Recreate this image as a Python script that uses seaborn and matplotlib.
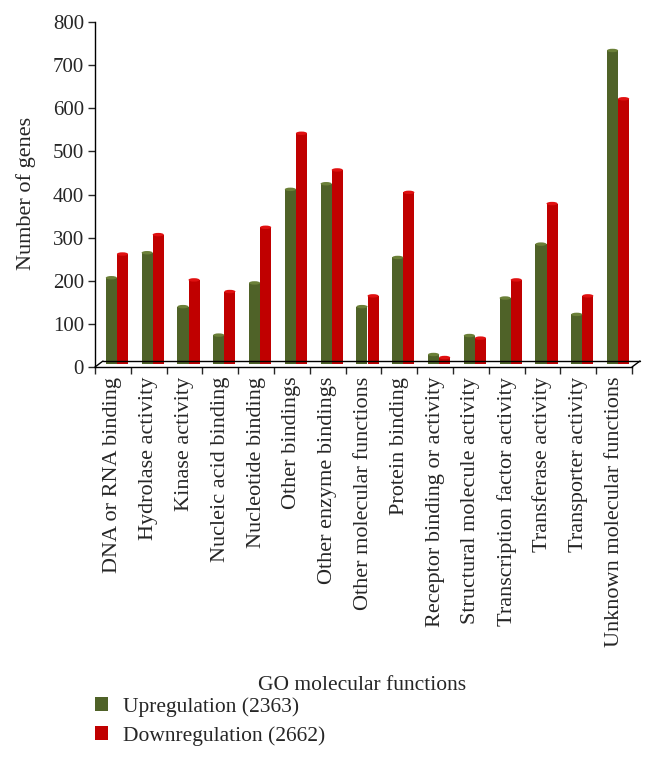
import matplotlib
matplotlib.use("Agg")
import matplotlib.pyplot as plt
import matplotlib.transforms as mtransforms
from matplotlib.patches import Patch, Ellipse
import pandas as pd
import seaborn as sns

# GO molecular function categories
categories = ["DNA or RNA binding", "Hydrolase activity", "Kinase activity",
              "Nucleic acid binding", "Nucleotide binding", "Other bindings",
              "Other enzyme bindings", "Other molecular functions",
              "Protein binding", "Receptor binding or activity",
              "Structural molecule activity", "Transcription factor activity",
              "Transferase activity", "Transporter activity",
              "Unknown molecular functions"]
up_counts = [200, 258, 133, 67, 188, 405, 418, 133, 247, 22, 66, 153, 278, 115, 727]
down_counts = [255, 300, 195, 168, 317, 535, 450, 158, 398, 15, 60, 195, 372, 158, 615]
series_names = ["Upregulation (2363)", "Downregulation (2662)"]
colors = ["#4F6228", "#C00000"]
cap_colors = ["#6B8038", "#E01010"]

df = pd.DataFrame({
    "cat": categories * 2,
    "n": up_counts + down_counts,
    "series": [series_names[0]] * len(categories) + [series_names[1]] * len(categories),
})

sns.set_style("white")
plt.rcParams["font.family"] = ["Liberation Serif", "DejaVu Serif"]

fig = plt.figure(figsize=(6.55, 7.58), dpi=100)
W, H = 655, 758
ax = fig.add_axes([95 / W, (H - 367) / H, (632 - 95) / W, (367 - 22) / H])

sns.barplot(data=df, x="cat", y="n", hue="series", palette=colors,
            width=0.62, saturation=1, ax=ax, legend=False)

# pseudo 3D: bars stand on the back edge of the floor, with a round top
shift = mtransforms.ScaledTranslation(4 / 100, 3 / 100, fig.dpi_scale_trans)
bars = list(ax.patches)
for i, p in enumerate(bars):
    p.set_transform(ax.transData + shift)
    p.set_edgecolor("none")
    cap = Ellipse((p.get_x() + p.get_width() / 2, p.get_height()),
                  p.get_width(), 8, facecolor=cap_colors[i // len(categories)],
                  edgecolor="none", transform=ax.transData + shift, clip_on=False)
    ax.add_patch(cap)

ax.set_xlim(-0.5, len(categories) - 0.5)
ax.set_ylim(0, 800)
ax.set_yticks(range(0, 801, 100))
ax.tick_params(axis="y", left=True, length=5, width=1, labelsize=15, pad=3)
ax.set_xticks(range(len(categories)))
ax.set_xticklabels(categories, rotation=90, fontsize=16)
ax.set_xticks([i - 0.5 for i in range(len(categories) + 1)], minor=True)
ax.tick_params(axis="x", which="major", length=0, pad=7)
ax.tick_params(axis="x", which="minor", bottom=True, length=5, width=1, direction="out")
ax.set_xlabel("")
ax.set_ylabel("")

for s in ["top", "right"]:
    ax.spines[s].set_visible(False)
for s in ["left", "bottom"]:
    ax.spines[s].set_color("black")
    ax.spines[s].set_linewidth(1)

# floor outline
floor = mtransforms.ScaledTranslation(8 / 100, 6 / 100, fig.dpi_scale_trans)
ax.plot([0, 1], [0, 0], color="black", lw=1, transform=ax.transAxes + floor, clip_on=False)
for xa in [0, 1]:
    ax.annotate("", xy=(xa, 0), xycoords="axes fraction",
                xytext=(8, 6), textcoords="offset pixels",
                arrowprops=dict(arrowstyle="-", color="black", lw=1,
                                shrinkA=0, shrinkB=0))

fig.text(26 / W, 1 - 193 / H, "Number of genes", rotation=90, fontsize=16,
         ha="center", va="center")
fig.text(258 / W, 1 - 686 / H, "GO molecular functions", fontsize=15.5,
         ha="left", va="center")

handles = [Patch(facecolor=c, edgecolor="none") for c in colors]
fig.legend(handles, series_names, loc="upper left",
           bbox_to_anchor=(95 / W, 1 - 697 / H), frameon=False, fontsize=15.5,
           handlelength=0.6, handleheight=0.6, handletextpad=0.7,
           labelspacing=0.42, borderpad=0, borderaxespad=0)

fig.savefig("out.png", dpi=100)
